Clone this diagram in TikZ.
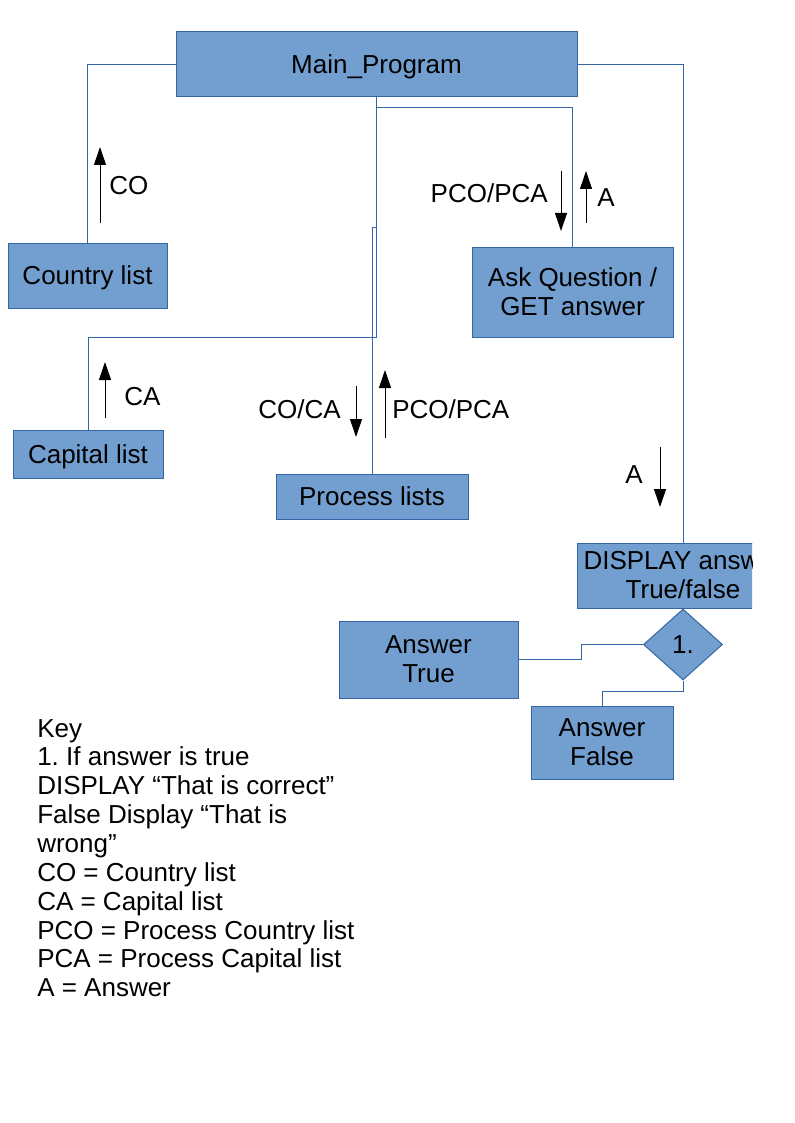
\documentclass[tikz,border=0pt]{standalone}
\usepackage{fontspec}
\setmainfont{Liberation Sans}
\frenchspacing
\usetikzlibrary{shapes.geometric,arrows.meta}
\definecolor{boxfill}{HTML}{729FCF}
\definecolor{boxline}{HTML}{3465A4}
\tikzset{
  every node/.style={font=\fontsize{19.5pt}{21.7pt}\selectfont},
  block/.style={draw=boxline, fill=boxfill, line width=0.75pt, inner sep=0pt, align=center, rectangle},
  oneline/.style={text height=14pt, text depth=0pt},
  dec/.style={draw=boxline, fill=boxfill, line width=0.75pt, inner sep=0pt, diamond},
  link/.style={draw=boxline, line width=0.75pt},
  flow/.style={draw=black, line width=0.75pt, -{Triangle[length=13.5pt,width=9pt]}},
  lbl/.style={inner sep=0pt},
}
\begin{document}
\begin{tikzpicture}[x=0.75pt,y=-0.75pt]
\useasboundingbox (0,0) rectangle (794,1123);

% boxes
\node[block, oneline, minimum width=300.75pt, minimum height=48.75pt] (main) at (376.5,64.5) {Main\_Program};
\node[block, oneline, minimum width=119.25pt, minimum height=48.75pt] (country) at (87.5,275.5) {Country list};
\node[block, minimum width=150.75pt, minimum height=67.5pt] (ask) at (572.5,292) {Ask Question /\\GET answer};
\node[block, oneline, minimum width=112.5pt, minimum height=36pt] (capital) at (88,454) {Capital list};
\node[block, oneline, minimum width=144pt, minimum height=33.75pt] (proc) at (372,496.5) {Process lists};
\begin{scope}
  \clip (0,0) rectangle (752,1123);
  \node[block, minimum width=159pt, minimum height=48.75pt] (disp) at (683,575.5) {DISPLAY answer\\True/false};
\end{scope}
\node[dec, oneline, minimum width=59.25pt, minimum height=53.25pt] (dia) at (683,644.5) {1.};
\node[block, minimum width=134.25pt, minimum height=57.75pt] (atrue) at (428.5,659.5) {Answer\\True};
\node[block, minimum width=106.5pt, minimum height=54.75pt] (afalse) at (602,742.5) {Answer\\False};

% connectors
\coordinate (pj) at (376.5,228);
\draw[link] (main.west) -| (country.north);
\draw[link] (main.east) -| (disp.north);
\draw[link] (main.south) -- ++(0,240) -| (capital.north);
\draw[link] ([yshift=-7.5pt]main.south) -| (ask.north);
\draw[link] (proc.north) |- (pj);
\draw[link] (dia.west) -- ++(-62,0) |- (atrue.east);
\draw[link] (dia.south) -- ++(0,11) -| (afalse.north);

% data-flow arrows
\draw[flow] (100,223) -- (100,147);
\node[lbl, anchor=base west] (lco) at (109,195) {CO};
\draw[flow] (561,171) -- (561,231);
\node[lbl, anchor=base east] (lpp1) at (548,203) {PCO/PCA};
\draw[flow] (586,223) -- (586,171);
\node[lbl, anchor=base west] (la1) at (597,207) {A};
\draw[flow] (105,418) -- (105,362);
\node[lbl, anchor=base west] (lca) at (124,405) {CA};
\draw[flow] (356,386) -- (356,437);
\node[lbl, anchor=base east] (lcoca) at (341,418) {CO/CA};
\draw[flow] (385,438) -- (385,370);
\node[lbl, anchor=base west] (lpp2) at (392,418) {PCO/PCA};
\draw[flow] (660,447) -- (660,507);
\node[lbl, anchor=base east] (la2) at (643,483) {A};

% key
\foreach \t [count=\i from 0] in {Key,1. If answer is true,DISPLAY “That is correct”,False Display “That is,wrong”,CO = Country list,CA = Capital list,PCO = Process Country list,PCA = Process Capital list,A = Answer}
  \node[lbl, anchor=base west] (key\i) at (37,737+28.86*\i) {\t};
\end{tikzpicture}
\end{document}
